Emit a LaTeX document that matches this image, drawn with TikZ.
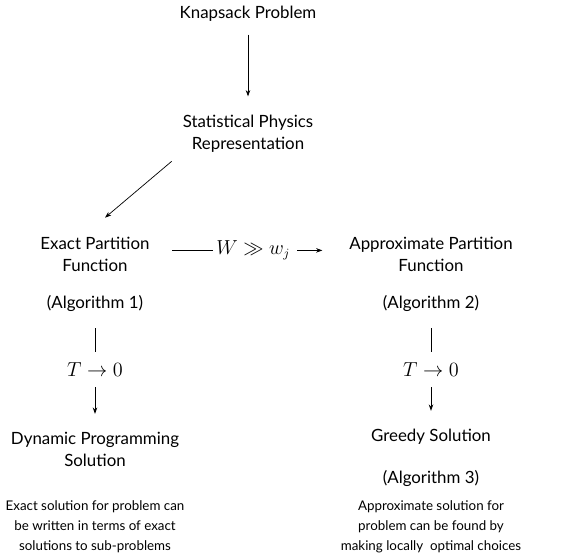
\documentclass[tikz,border=0pt]{standalone}
\usepackage{amsmath}
\usepackage{amssymb}
\usepackage[no-math]{fontspec}
\setmainfont{Lato}
\usepackage{tikz}
\usetikzlibrary{arrows.meta, positioning}

\begin{document}
\begin{tikzpicture}[
            >={Stealth[width=3.2pt,length=4.5pt]},
                base/.style = {rectangle, text centered, align=center,
                            font=\fontsize{12}{15.6}\selectfont, inner sep=2pt},
                title/.style = {base},
                algo/.style = {base},
                limit/.style = {base, font=\fontsize{13.5}{15}\selectfont},
                desc/.style = {base, font=\fontsize{9.5}{14.2}\selectfont},
                link/.style = {line width=0.5pt, shorten <=6pt, shorten >=6pt},
                arrowlink/.style = {line width=0.5pt, ->, shorten <=5pt, shorten >=11pt},
            node distance=1.5cm]
            \useasboundingbox (0,0) rectangle (14.675,-13.95);
            \node (Knapsack) [title] at (6.2,-0.35) {Knapsack Problem};
            \node (StatPhys) [title, below of=Knapsack, node distance=2.99cm] {Statistical Physics\\Representation};
            \node (Exact) [title] at (2.375,-6.35) {Exact Partition\\Function};
            \node (Approx) [title, right of=Exact, node distance=8.4cm] {Approximate Partition\\Function};
            \node (Large) [limit] at (6.33,-6.26) {$W \gg w_j$};
            % left branch
            \node (AlgOne) [algo, below of=Exact, node distance=1.225cm] {(Algorithm 1)};
            \node (LimitOne) [limit, below of=AlgOne, node distance=1.675cm] {$T \to 0$};
            \node (DynProg) [title, below of=LimitOne, node distance=1.99cm] {Dynamic Programming\\Solution};
            \node (DescOne) [desc, below of=DynProg, node distance=1.935cm] {Exact solution for problem can\\be written in terms of exact\\solutions to sub-problems};
            % right branch
            \node (AlgTwo) [algo, below of=Approx, node distance=1.225cm] {(Algorithm 2)};
            \node (LimitTwo) [limit, below of=AlgTwo, node distance=1.675cm] {$T \to 0$};
            \node (Greedy) [title, below of=LimitTwo, node distance=1.675cm] {Greedy Solution};
            \node (AlgThree) [algo, below of=Greedy, node distance=1.025cm] {(Algorithm 3)};
            \node (DescTwo) [desc, below of=Greedy, node distance=2.25cm] {Approximate solution for\\problem can be found by\\making locally\ \ optimal choices};
            \draw[arrowlink, shorten <=7pt] (Knapsack) -- (StatPhys);
            \draw[line width=0.5pt, ->] ([xshift=-0.2cm, yshift=-0.15cm]StatPhys.south west) -- ([xshift=0.25cm, yshift=0.4cm]Exact.north);
            \draw[line width=0.5pt, shorten <=14pt] (Exact.east |- Large) -- (Large);
            \draw[line width=0.5pt, ->, shorten <=3pt, shorten >=17pt] (Large) -- (Approx.west |- Large);
            \draw[link, shorten <=10pt] (AlgOne) -- (LimitOne);
            \draw[arrowlink] (LimitOne) -- (DynProg);
            \draw[link, shorten <=10pt] (AlgTwo) -- (LimitTwo);
            \draw[arrowlink] (LimitTwo) -- (Greedy);
        \end{tikzpicture}
\end{document}
